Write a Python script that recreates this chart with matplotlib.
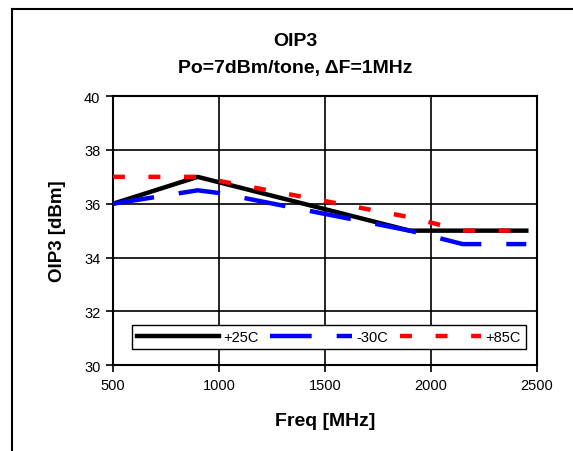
import matplotlib
matplotlib.use('Agg')
import matplotlib.pyplot as plt
from matplotlib.lines import Line2D

plt.rcParams['font.family'] = ['Liberation Sans', 'DejaVu Sans']
plt.rcParams['lines.scale_dashes'] = False

# data
freq = [500, 900, 1000, 1900, 2150, 2450]
oip3_p25 = [36.0, 37.0, 36.8, 35.0, 35.0, 35.0]
oip3_m30 = [36.0, 36.5, 36.4, 35.0, 34.5, 34.5]
oip3_p85 = [37.0, 37.0, 36.85, 35.5, 35.0, 35.0]

fig = plt.figure(figsize=(5.73, 4.52), dpi=100)
ax = fig.add_axes([0.197, 0.190, 0.740, 0.595])

# chart area border (only top and left visible in the reference)
fig.add_artist(Line2D([12/573, 12/573], [0, 1 - 10/452], color='black', lw=1.5, transform=fig.transFigure))
fig.add_artist(Line2D([12/573, 1], [1 - 10/452, 1 - 10/452], color='black', lw=1.5, transform=fig.transFigure))

ax.plot(freq, oip3_p25, color='black', lw=3.2, label='+25C', zorder=3)
ax.plot(freq, oip3_m30, color='#0000ff', lw=3.2, dashes=(30, 18), label='-30C', zorder=4)
ax.plot(freq, oip3_p85, color='#ff0000', lw=3.2, dashes=(8.6, 17), label='+85C', zorder=5)

ax.set_xlim(500, 2500)
ax.set_ylim(30, 40)
ax.set_xticks([500, 1000, 1500, 2000, 2500])
ax.set_yticks([30, 32, 34, 36, 38, 40])
ax.grid(True, color='black', lw=1.2)
ax.set_axisbelow(True)
for s in ax.spines.values():
    s.set_linewidth(1.5)
ax.tick_params(direction='out', length=5, width=1.2, labelsize=10.5, pad=4)

ax.set_xlabel('Freq [MHz]', fontsize=14, fontweight='bold', labelpad=15)
ax.set_ylabel('OIP3 [dBm]', fontsize=13.5, fontweight='bold', labelpad=13)

fig.text(295/573, 1 - 42/452, 'OIP3', ha='center', va='center', fontsize=14, fontweight='bold')
fig.text(295/573, 1 - 69/452, 'Po=7dBm/tone, \u0394F=1MHz', ha='center', va='center', fontsize=14, fontweight='bold')

leg = ax.legend(loc='lower left', bbox_to_anchor=(0.045, 0.06), ncol=3, fontsize=10.5,
                handlelength=5.6, handletextpad=0.3, columnspacing=0.8,
                fancybox=False, framealpha=1, edgecolor='black', borderpad=0.35,
                borderaxespad=0)
leg.get_frame().set_linewidth(1.0)

fig.savefig('out.png', dpi=100)
